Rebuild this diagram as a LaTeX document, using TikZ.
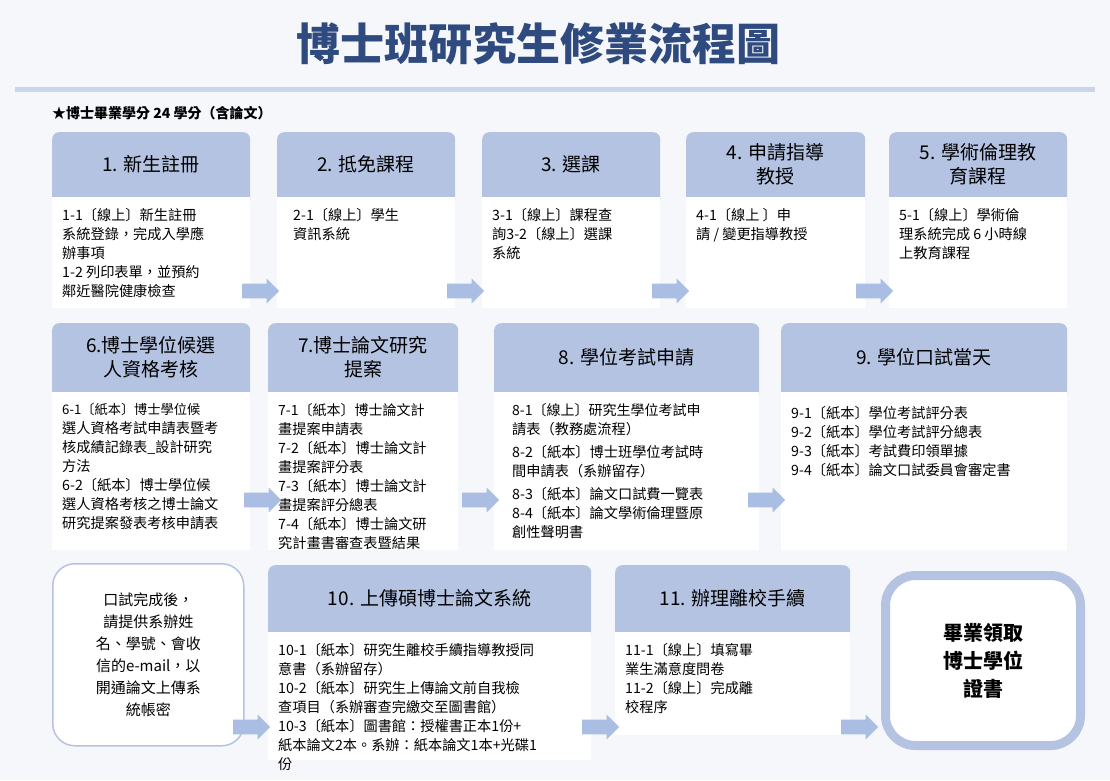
\documentclass[tikz,border=0pt]{standalone}
\usepackage{fontspec}
\setmainfont{Noto Sans CJK TC}
\usetikzlibrary{shapes.arrows,positioning}
\definecolor{navy}{HTML}{2E4A7E}
\definecolor{hdrblue}{HTML}{B4C3E1}
\definecolor{arrblue}{HTML}{A9BEE2}
\definecolor{bgc}{HTML}{F6F7FB}
\begin{document}
\begin{tikzpicture}[x=1pt,y=-1pt]
  \tikzset{hdr/.style = {draw=none,fill=hdrblue,rounded corners=7pt,inner sep=0pt,anchor=north west,align=center}}
  \tikzset{bodybox/.style = {draw=none,fill=white,inner sep=0pt,anchor=north west}}
  \tikzset{bodytext/.style = {anchor=north west,align=left,inner sep=0pt,font=\fontsize{14.2}{19}\selectfont}}
  \tikzset{blockarrow/.style = {single arrow,fill=arrblue,draw=none,minimum width=25pt,single arrow head extend=5pt,minimum height=37pt,inner sep=7pt}}
  \tikzset{roundbox/.style = {draw=hdrblue,fill=white,rounded corners=22pt,anchor=north west,align=center}}

  \useasboundingbox (0,0) rectangle (1110,780);
  \fill[bgc] (0,0) rectangle (1110,780);

  \node[text=navy,font=\fontsize{44}{48}\bfseries\selectfont] (title) at (538,44) {博士班研究生修業流程圖};
  \fill[hdrblue!70] (15,87) rectangle (1095,92);
  \node[anchor=west,inner sep=0pt,font=\fontsize{14}{16}\bfseries\selectfont] (credit) at (52,113) {★博士畢業學分 24 學分（含論文）};

  % box helper: #1 name, #2 x, #3 y, #4 w, #5 header h, #6 body h, #7 header, #8 body
  \newcommand{\stepcard}[8]{%
    \node[hdr,minimum width=#4,minimum height=#5+10] (h#1) at (#2,#3) {};
    \node[bodybox,minimum width=#4,minimum height=#6] (b#1) at (#2,#3+#5) {};
    \node[font=\fontsize{19}{24}\selectfont,align=center] (t#1) at (#2+#4/2,#3+#5/2) {#7};
    \node[bodytext] (c#1) at (#2+10,#3+#5+11) {#8};
  }

  % row 1
  \stepcard{1}{52}{132}{198}{65}{111}{1. 新生註冊}{1-1〔線上〕新生註冊\\系統登錄，完成入學應\\辦事項\\1-2 列印表單，並預約\\鄰近醫院健康檢查}
  \stepcard{2}{277}{132}{178}{65}{111}{2. 抵免課程}{\hspace*{6pt}2-1〔線上〕學生\\\hspace*{6pt}資訊系統}
  \stepcard{3}{482}{132}{178}{65}{111}{3. 選課}{3-1〔線上〕課程查\\詢3-2〔線上〕選課\\系統}
  \stepcard{4}{686}{132}{179}{65}{111}{4. 申請指導\\教授}{4-1〔線上 〕申\\請 / 變更指導教授}
  \stepcard{5}{889}{132}{178}{65}{111}{5. 學術倫理教\\育課程}{5-1〔線上〕學術倫\\理系統完成 6 小時線\\上教育課程}

  % row 2
  \stepcard{6}{52}{323}{198}{69}{158}{6.博士學位候選\\人資格考核}{\fontsize{13.2}{17.5}\selectfont 6-1〔紙本〕博士學位候\\選人資格考試申請表暨考\\核成績記錄表\_設計研究\\方法\\6-2〔紙本〕博士學位候\\選人資格考核之博士論文\\研究提案發表考核申請表}
  \stepcard{7}{268}{323}{190}{69}{158}{7.博士論文研究\\提案}{\fontsize{14}{17.5}\selectfont 7-1〔紙本〕博士論文計\\畫提案申請表\\7-2〔紙本〕博士論文計\\畫提案評分表\\7-3〔紙本〕博士論文計\\畫提案評分總表\\7-4〔紙本〕博士論文研\\究計畫書審查表暨結果}
  \stepcard{8}{494}{323}{265}{69}{158}{8. 學位考試申請}{\fontsize{14}{17.5}\selectfont\hspace*{8pt}8-1〔線上〕研究生學位考試申\\\hspace*{8pt}請表（教務處流程）\\[4pt]\hspace*{8pt}8-2〔紙本〕博士班學位考試時\\\hspace*{8pt}間申請表（系辦留存）\\[4pt]\hspace*{8pt}8-3〔紙本〕論文口試費一覽表\\\hspace*{8pt}8-4〔紙本〕論文學術倫理暨原\\\hspace*{8pt}創性聲明書}
  \stepcard{9}{781}{323}{286}{69}{158}{9. 學位口試當天}{\\[-4pt]9-1〔紙本〕學位考試評分表\\9-2〔紙本〕學位考試評分總表\\9-3〔紙本〕考試費印領單據\\9-4〔紙本〕論文口試委員會審定書}

  % row 3
  \node[roundbox,line width=1.5pt,minimum width=191,minimum height=182,font=\fontsize{15}{22}\selectfont] (notice) at (52,563) {口試完成後，\\請提供系辦姓\\名、學號、會收\\信的e-mail，以\\開通論文上傳系\\統帳密};
  \stepcard{10}{268}{565}{323}{67}{128}{10. 上傳碩博士論文系統}{10-1〔紙本〕研究生離校手續指導教授同\\意書（系辦留存）\\10-2〔紙本〕研究生上傳論文前自我檢\\查項目（系辦審查完繳交至圖書館）\\10-3〔紙本〕圖書館：授權書正本1份+\\紙本論文2本。系辦：紙本論文1本+光碟1\\份}
  \stepcard{11}{615}{565}{235}{67}{103}{11. 辦理離校手續}{11-1〔線上〕填寫畢\\業生滿意度問卷\\11-2〔線上〕完成離\\校程序}
  \node[roundbox,line width=9pt,rounded corners=30pt,minimum width=195,minimum height=170,font=\fontsize{20}{28}\bfseries\selectfont] (degree) at (881,571) {畢業領取\\博士學位\\證書};

  % arrows
  \foreach \name/\ax/\ay in {a1/257/291, a2/462/291, a3/667/291, a4/871/291,
                             a6/259/500, a7/477/500, a8/763/500,
                             a9/248/727, a10/597/727, a11/856/727}
    \node[blockarrow] (\name) at (\ax,\ay) {};
\end{tikzpicture}
\end{document}
